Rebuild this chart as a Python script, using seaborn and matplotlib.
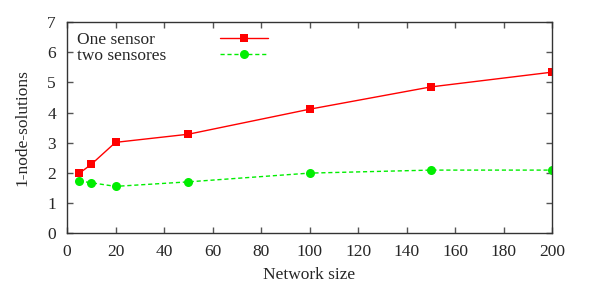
import numpy as np
import pandas as pd
import matplotlib
matplotlib.use('Agg')
import matplotlib.pyplot as plt
import seaborn as sns

network_size = [5, 10, 20, 50, 100, 150, 200]
one_sensor = [1.98, 2.28, 3.01, 3.28, 4.11, 4.85, 5.34]
two_sensores = [1.73, 1.67, 1.55, 1.70, 1.99, 2.09, 2.09]

sns.set_style('ticks')
plt.rcParams['font.family'] = ['Liberation Serif', 'DejaVu Serif']

df = pd.DataFrame({
    'Network size': network_size * 2,
    'value': one_sensor + two_sensores,
    'series': ['One sensor'] * len(network_size) + ['two sensores'] * len(network_size),
})

fig = plt.figure(figsize=(5.93, 2.91), dpi=100)
ax = fig.add_axes([0.113, 0.199, 0.818, 0.725])

sns.lineplot(data=df[df['series'] == 'One sensor'], x='Network size', y='value',
             color='#ff0000', marker='s', markersize=6, linewidth=1,
             markeredgewidth=0, label='One sensor', ax=ax)
sns.lineplot(data=df[df['series'] == 'two sensores'], x='Network size', y='value',
             color='#00ee00', marker='o', markersize=6.5, linewidth=1,
             linestyle=(0, (3, 2)), markeredgewidth=0, label='two sensores', ax=ax)

ax.set_xlim(0, 200)
ax.set_ylim(0, 7)
ax.set_xticks(np.arange(0, 201, 20))
ax.set_yticks(np.arange(0, 8, 1))
ax.set_xlabel('Network size', fontsize=12.5, labelpad=5)
ax.set_ylabel('1-node-solutions', fontsize=12.5, labelpad=12)
ax.tick_params(direction='in', top=True, right=True, labelsize=12.5, length=4, width=1, color='#555555')
ax.tick_params(axis='x', pad=8)
ax.tick_params(axis='y', pad=8)
for s in ax.spines.values():
    s.set_visible(True)
    s.set_linewidth(1)
    s.set_color('#333333')

# gnuplot-style key: labels left-aligned, samples to the right
fs = 12.5
leg = ax.legend(loc='upper left', frameon=False, markerfirst=False, fontsize=fs,
                handlelength=2.75, handletextpad=3.15, labelspacing=0.0,
                borderaxespad=0.15, bbox_to_anchor=(0.0, 1.0))
fig.canvas.draw()
col = leg._legend_handle_box.get_children()[0]
col.align = 'left'
widths = [t.get_window_extent().width for t in leg.get_texts()]
wmax = max(widths)
for item, w in zip(col.get_children(), widths):
    item.sep = item.sep + (wmax - w) * 72.0 / fig.dpi

fig.savefig('out.png', dpi=100)
